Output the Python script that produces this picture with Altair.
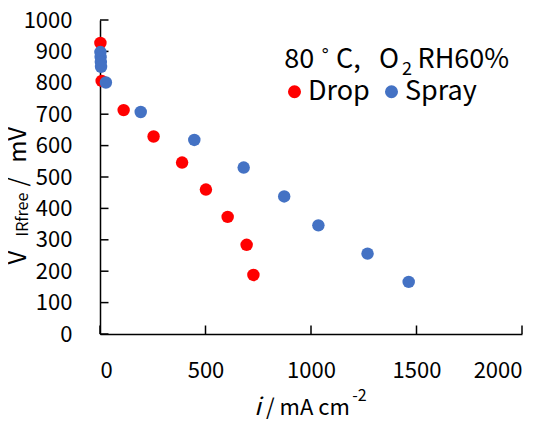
import altair as alt
import pandas as pd

# ---- data ----
series = ["Drop", "Spray"]
colors = ["#FF0000", "#4472C4"]
drop_i = [2, 8, 112, 254, 389, 502, 605, 695, 727]
drop_v = [927, 806, 713, 629, 546, 460, 373, 284, 188]
spray_i = [2, 3, 4, 5, 28, 193, 447, 681, 873, 1035, 1268, 1463]
spray_v = [898, 882, 866, 851, 801, 707, 618, 530, 438, 346, 256, 166]
x_ticks = [0, 500, 1000, 1500, 2000]
y_ticks = [0, 100, 200, 300, 400, 500, 600, 700, 800, 900, 1000]

W, H = 422, 314
FONT = "Noto Sans CJK JP"

rows = []
k = 0
for s, xs_, ys_ in [("Drop", drop_i, drop_v), ("Spray", spray_i, spray_v)]:
    for a, b in zip(xs_, ys_):
        rows.append({"series": s, "i": a, "v": b, "k": k})
        k += 1
df = pd.DataFrame(rows)

xsc = alt.Scale(domain=[0, 2000], nice=False, zero=False)
ysc = alt.Scale(domain=[0, 1000], nice=False, zero=False)

common_axis = dict(grid=False, ticks=False, title=None, domainColor="black",
                   domainWidth=1.5, labelColor="black", labelFont=FONT,
                   labelFontSize=22, format="d")
xaxis = alt.Axis(values=x_ticks, labelPadding=26, **common_axis)
yaxis = alt.Axis(values=y_ticks, labelPadding=28, **common_axis)

ytick = alt.Chart(pd.DataFrame({"v": y_ticks})).mark_rule(
    color="black", strokeWidth=1.5).encode(
    y=alt.Y("v:Q", scale=ysc, axis=yaxis),
    x=alt.value(0), x2=alt.value(8.5))

xtick = alt.Chart(pd.DataFrame({"i": x_ticks})).mark_rule(
    color="black", strokeWidth=1.5).encode(
    x=alt.X("i:Q", scale=xsc, axis=xaxis),
    y=alt.value(H), y2=alt.value(H - 8.5))

points = alt.Chart(df).mark_circle(size=155, opacity=1).encode(
    x=alt.X("i:Q", scale=xsc, axis=xaxis),
    y=alt.Y("v:Q", scale=ysc, axis=yaxis),
    color=alt.Color("series:N", scale=alt.Scale(domain=series, range=colors),
                    legend=alt.Legend(orient="none", legendX=181, legendY=58,
                                      direction="horizontal", title=None,
                                      labelFontSize=27, labelFont=FONT,
                                      labelColor="black",
                                      symbolType="circle", symbolSize=170,
                                      symbolStrokeWidth=0, labelOffset=0,
                                      columnPadding=8, padding=0)),
    order=alt.Order("k:Q"),
)


def label(text, x, y, size, align="left", angle=0, style="normal"):
    return alt.Chart(pd.DataFrame({"t": [text]})).mark_text(
        align=align, baseline="alphabetic", fontSize=size, font=FONT,
        angle=angle, fontStyle=style, color="black").encode(
        text="t:N", x=alt.value(x), y=alt.value(y))


TS = 27
texts = [
    # annotation "80˚C, O2 RH60%"
    label("80", 214.3, 47.5, TS, align="right"),
    label("˚", 225.3, 47.5, TS, align="center"),
    label("C,", 236, 47.5, TS),
    label("O", 289, 47.5, TS, align="center"),
    label("2", 302, 54.5, 18),
    label("RH60%", 317.5, 47.5, TS),
    # x title
    label("i", 154.3, 394.5, 24, style="italic"),
    label("/ mA cm", 249.8, 394.5, 22, align="right"),
    label("-2", 252.3, 381, 16),
    # y title (rotated)
    label("V", -74.5, 244.5, 24, angle=270),
    label("IRfree", -72, 216.5, 16, angle=270),
    label("/", -74.5, 166.5, 24, angle=270),
    label("mV", -74.5, 107, 24, align="right", angle=270),
]

chart = alt.layer(ytick, xtick, points, *texts).properties(
    width=W, height=H,
    autosize=alt.AutoSizeParams(type="none"),
    padding={"left": 92, "top": 12, "right": 20, "bottom": 86},
).configure_view(stroke=None)

chart.save("out.html", embed_options={"renderer": "svg", "actions": False})
